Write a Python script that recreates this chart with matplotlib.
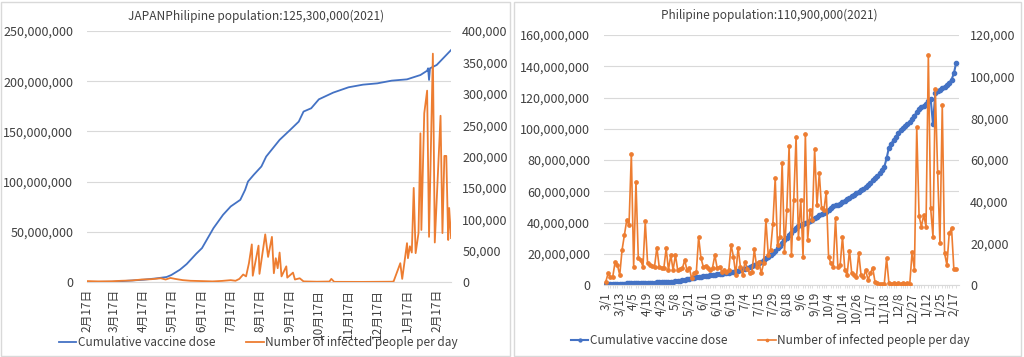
import matplotlib
matplotlib.use('Agg')
import matplotlib.pyplot as plt
from matplotlib.patches import Rectangle
from matplotlib.ticker import FuncFormatter, MultipleLocator
import numpy as np
import pandas as pd

plt.rcParams['font.family'] = ['Noto Sans CJK JP', 'DejaVu Sans']

BLUE = '#4472C4'
ORANGE = '#ED7D31'
GRID = '#D9D9D9'
TXT = '#404040'

# ---------------- Japan ----------------
jp_title = 'JAPANPhilipine population:125,300,000(2021)'
jp_vac_dates = ['2021-02-17', '2021-03-16', '2021-04-17', '2021-04-30', '2021-05-11', '2021-05-16',
                '2021-05-25', '2021-06-01', '2021-06-11', '2021-06-17', '2021-06-29', '2021-07-09',
                '2021-07-17', '2021-07-27', '2021-08-01', '2021-08-04', '2021-08-10', '2021-08-18',
                '2021-08-23', '2021-08-30', '2021-09-06', '2021-09-17', '2021-09-26', '2021-10-01',
                '2021-10-09', '2021-10-17', '2021-11-01', '2021-11-17', '2021-12-02', '2021-12-17',
                '2022-01-01', '2022-01-17', '2022-01-31', '2022-02-07', '2022-02-08', '2022-02-09',
                '2022-02-10', '2022-02-17', '2022-03-04']
jp_vac = [0, 0.3, 2.3, 3.6, 5.0, 7.0, 12.3, 17.9, 28.2, 33.8, 53.7, 67.0, 75.3, 81.9, 91.8, 100.1,
          106.8, 115.1, 125.0, 133.3, 141.6, 151.5, 159.8, 169.8, 173.1, 182.0, 188.7, 194.0, 196.6,
          197.9, 200.6, 201.9, 206.2, 210.5, 212.9, 201.3, 212.9, 216.2, 231.1]  # millions

jp_inf_dates = ['2021-02-17', '2021-03-01', '2021-03-15', '2021-03-25', '2021-04-05', '2021-04-15',
                '2021-04-25', '2021-05-05', '2021-05-10', '2021-05-15', '2021-05-20', '2021-05-28',
                '2021-06-05', '2021-06-17', '2021-06-28', '2021-07-08', '2021-07-17', '2021-07-22',
                '2021-07-26', '2021-07-30', '2021-08-02', '2021-08-05', '2021-08-08', '2021-08-09',
                '2021-08-15', '2021-08-16', '2021-08-22', '2021-08-25', '2021-08-29', '2021-08-31',
                '2021-09-02', '2021-09-04', '2021-09-06', '2021-09-08', '2021-09-13', '2021-09-14',
                '2021-09-20', '2021-09-22', '2021-09-27', '2021-10-01', '2021-10-15', '2021-10-28',
                '2021-10-30', '2021-11-02', '2021-12-01', '2022-01-01', '2022-01-03', '2022-01-10',
                '2022-01-12', '2022-01-17', '2022-01-18', '2022-01-20', '2022-01-22', '2022-01-24',
                '2022-01-26', '2022-01-29', '2022-01-31', '2022-02-01', '2022-02-04', '2022-02-07',
                '2022-02-09', '2022-02-13', '2022-02-15', '2022-02-21', '2022-02-23', '2022-02-25',
                '2022-02-27', '2022-03-01', '2022-03-02', '2022-03-04']
jp_inf = [1.5, 1.0, 1.2, 2.0, 2.5, 4.0, 4.5, 6.0, 4.0, 6.5, 5.0, 3.0, 2.0, 1.5, 1.0, 1.8, 3.0, 2.0,
          5.0, 12.0, 9.0, 30, 60, 10, 58, 13, 76, 40, 72, 14, 38, 22, 47, 9, 25, 7, 15, 4, 6, 1,
          0.5, 0.8, 5, 0.3, 0.2, 0.5, 1, 30, 5, 62, 38, 57, 47, 150, 46, 78, 237, 83, 269, 305,
          72, 364, 63, 265, 78, 201, 201, 67, 118, 70]  # thousands

jp_tick_dates = ['2021-02-17', '2021-03-17', '2021-04-17', '2021-05-17', '2021-06-17', '2021-07-17',
                 '2021-08-17', '2021-09-17', '2021-10-17', '2021-11-17', '2021-12-17', '2022-01-17',
                 '2022-02-17']
jp_tick_labels = ['2月17日', '3月17日', '4月17日', '5月17日', '6月17日', '7月17日', '8月17日',
                  '9月17日', '10月17日', '11月17日', '12月17日', '1月17日', '2月17日']

# ---------------- Philippines ----------------
ph_title = 'Philipine population:110,900,000(2021)'
ph_labels = ['3/1', '3/13', '4/5', '4/19', '4/28', '5/8', '5/21', '6/1', '6/10', '6/19', '7/4',
             '7/15', '7/29', '8/18', '9/6', '9/19', '10/4', '10/14', '10/26', '11/7', '11/18',
             '12/8', '12/27', '1/12', '1/25', '2/17']
ph_vac = [0.5, 0.6, 0.6, 0.7, 0.7, 0.8, 0.8, 0.9, 0.9, 1.0, 1.0, 1.1, 1.1, 1.2, 1.2, 1.3, 1.3,
          1.4, 1.4, 1.5, 1.5, 1.5, 1.6, 1.6, 1.6, 1.7, 1.7,
          1.8, 2.0, 2.2, 2.4, 2.6, 2.8, 3.0,
          3.3, 3.6, 3.9, 4.2, 4.5, 4.8,
          5.0, 5.2, 5.5, 5.8, 6.0, 6.2,
          6.4, 6.6, 6.8, 7.0, 7.2, 7.4, 7.6,
          7.7, 8.0, 8.4, 8.8, 9.2, 9.6, 10.0,
          10.2, 10.8, 11.5, 12.2, 12.9, 13.5,
          14.0, 15.0, 16.0, 17.0,
          17.7, 19.0, 20.3,
          21.5, 23.5, 25.2,
          27.0, 28.7, 30.4,
          32.0, 33.5, 35.0, 36.3,
          37.5, 38.3, 39.0, 39.8, 40.5, 41.2,
          41.8, 42.7, 43.6, 44.5, 45.3, 46.2,
          47.0, 48.1, 49.2, 50.3, 51.4,
          51.2, 52.1, 53.0, 54.0, 55.0, 56.0, 57.0, 57.8, 58.6, 59.5,
          60.5, 61.7, 62.8, 64.0, 65.5, 67.2, 68.6, 70.0, 71.5, 73.5,
          75.5, 81.0, 88.0, 90.5, 92.8, 95.0, 97.0, 99.2, 100.5, 101.8,
          103.0, 104.5, 106.0, 108.5, 110.5, 113.0, 113.8, 114.8, 116.0, 117.5,
          119.0, 103.0, 123.0, 124.0, 125.0, 126.0, 127.0, 128.0, 129.5, 131.5,
          135.5, 142.3]  # millions
ph_inf = [1.6, 5.6, 4.0, 4.0, 11.0, 9.6, 4.8, 16.8, 24.0, 31.0, 28.8, 63.0, 8.8, 49.6, 13.0,
          12.0, 8.8, 30.5, 10.5, 9.6, 9.0, 8.8, 18.0, 8.8, 8.4, 8.0, 17.6, 7.2, 14.4, 7.2,
          14.4, 7.0, 7.6, 8.0, 12.0, 7.0, 8.0, 3.2, 5.6, 6.0, 23.0, 13.0, 8.8, 9.2, 8.0,
          7.2, 8.4, 14.4, 8.0, 8.8,
          6.4, 7.2, 6.4, 7.2, 19.2, 13.6, 4.8, 17.9, 8.8, 4.8, 11.2, 7.7, 5.6, 6.4, 17.1,
          8.8, 11.2, 5.6, 10.4, 31.2, 14.4, 16.8, 29.3, 51.2, 19.2, 23.2, 58.7, 16.0, 36.0,
          66.7, 14.4, 40.8, 71.2, 22.4, 40.8, 13.6, 72.5, 21.6, 36.0, 31.2, 65.1, 38.4, 53.6,
          36.8, 36.0, 44.8, 13.6, 10.4, 8.8, 32.0, 8.8, 9.6, 23.2,
          7.2, 4.8, 16.5, 5.6, 4.8, 3.7, 15.2, 4.8, 3.7, 7.2, 2.4, 5.6, 8.3, 1.6, 0.8, 0.5,
          0.6, 0.5, 12.8, 1.0, 0.5, 1.0, 0.5, 1.0, 0.5, 0.8, 0.5, 0.8, 0.6, 16.0, 7.2, 75.7,
          33.1, 28.0, 33.6, 28.0, 110.4, 36.8, 23.2, 94.0, 54.4, 20.0, 86.4, 15.2, 9.6, 24.8,
          27.2, 7.5, 7.5]  # thousands
ph_step = 6

fig = plt.figure(figsize=(10.24, 3.57), dpi=100)
fig.patch.set_facecolor('white')

for r in [(1, 1, 509, 354), (514, 1, 507, 354)]:
    fig.add_artist(Rectangle((r[0] / 1024, r[1] / 357), r[2] / 1024, r[3] / 357,
                             transform=fig.transFigure, fill=False, ec=GRID, lw=1))

comma = FuncFormatter(lambda v, p: f'{v:,.0f}')


def style(ax, ax2):
    for a in (ax, ax2):
        for s in a.spines.values():
            s.set_visible(False)
        a.tick_params(axis='y', length=0, labelsize=9, colors=TXT)
    ax.spines['bottom'].set_visible(True)
    ax.spines['bottom'].set_color(GRID)
    ax.grid(axis='y', color=GRID, lw=0.8)
    ax.set_axisbelow(True)
    ax.yaxis.set_major_formatter(comma)
    ax2.yaxis.set_major_formatter(comma)
    ax.tick_params(axis='y', pad=10)
    ax2.tick_params(axis='y', pad=8)


# ---- left: Japan
ax = fig.add_axes([0.085, 0.210, 0.3555, 0.703])
ax2 = ax.twinx()
d_vac = pd.to_datetime(jp_vac_dates)
d_inf = pd.to_datetime(jp_inf_dates)
l1, = ax.plot(d_vac, np.array(jp_vac) * 1e6, color=BLUE, lw=1.3, label='Cumulative vaccine dose')
l2, = ax2.plot(d_inf, np.array(jp_inf) * 1e3, color=ORANGE, lw=1.3,
               label='Number of infected people per day')
ax.set_ylim(0, 250e6)
ax.yaxis.set_major_locator(MultipleLocator(50e6))
ax2.set_ylim(0, 400e3)
ax2.yaxis.set_major_locator(MultipleLocator(50e3))
ax.set_xlim(pd.Timestamp('2021-02-17'), pd.Timestamp('2022-03-04'))
ax.set_xticks(pd.to_datetime(jp_tick_dates))
ax.set_xticklabels(jp_tick_labels, rotation=90, fontsize=8.5, color=TXT)
ax.tick_params(axis='x', length=0, pad=5)
style(ax, ax2)
fig.text(256 / 1024, 1 - 16 / 357, jp_title, fontsize=8.6, color=TXT, ha='center', va='center')
ax.legend([l1, l2], [l1.get_label(), l2.get_label()], ncol=2, frameon=False, loc='center',
          bbox_to_anchor=(0.252, 0.040), bbox_transform=fig.transFigure, fontsize=8.5,
          handlelength=1.5, handletextpad=0.1, columnspacing=2.6, labelcolor=TXT)

# ---- right: Philippines
bx = fig.add_axes([0.5898, 0.2017, 0.3467, 0.700])
bx2 = bx.twinx()
xi = np.arange(len(ph_vac))
xo = np.arange(len(ph_inf))
m1, = bx.plot(xi, np.array(ph_vac) * 1e6, color=BLUE, lw=1.5, marker='o', ms=3.0,
              label='Cumulative vaccine dose')
m2, = bx2.plot(xo, np.array(ph_inf) * 1e3, color=ORANGE, lw=1.2, marker='o', ms=2.4,
               label='Number of infected people per day')
bx.set_ylim(0, 160e6)
bx.yaxis.set_major_locator(MultipleLocator(20e6))
bx2.set_ylim(0, 120e3)
bx2.yaxis.set_major_locator(MultipleLocator(20e3))
bx.set_xlim(-0.8, 152.2)
bx.set_xticks(np.arange(len(ph_labels)) * ph_step)
bx.set_xticklabels(ph_labels, rotation=90, fontsize=8.5, color=TXT)
bx.set_xticks(xi, minor=True)
bx.tick_params(axis='x', which='major', length=0, pad=5)
bx.tick_params(axis='x', which='minor', length=2.5, color=GRID, width=0.6)
style(bx, bx2)
fig.text(769 / 1024, 1 - 15 / 357, ph_title, fontsize=8.5, color=TXT, ha='center', va='center')
bx.legend([m1, m2], [m1.get_label(), m2.get_label()], ncol=2, frameon=False, loc='center',
          bbox_to_anchor=(0.752, 0.045), bbox_transform=fig.transFigure, fontsize=8.5,
          handlelength=1.5, handletextpad=0.1, columnspacing=2.6, labelcolor=TXT,
          markerscale=0.7)

fig.savefig('out.png', dpi=100)
